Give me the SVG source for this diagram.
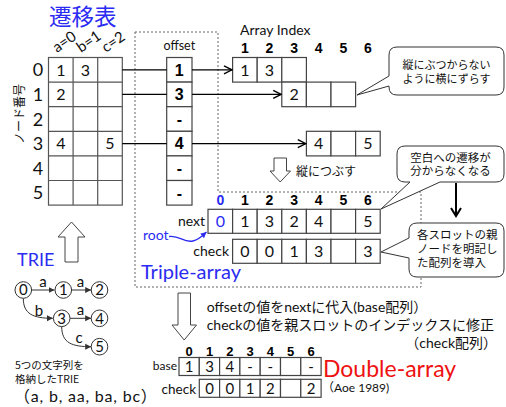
<svg xmlns="http://www.w3.org/2000/svg" width="506" height="407" viewBox="0 0 506 407">
<style>
.cell{fill:#fff;stroke:#444;stroke-width:1.2}
.grid{fill:none;stroke:#555;stroke-width:1.2}
.v{font-family:Lato,"Liberation Sans",sans-serif;font-size:16px;text-anchor:middle;fill:#111}
.dv{font-family:Lato,"Liberation Sans",sans-serif;font-size:15px;text-anchor:middle;fill:#111}
.b{font-family:"Liberation Sans",Arial,sans-serif;font-weight:bold;font-size:14px;text-anchor:middle;fill:#000}
.ob{font-family:"Liberation Sans",Arial,sans-serif;font-weight:bold;font-size:16px;text-anchor:middle;fill:#000}
.jp{font-family:"Noto Sans CJK JP",sans-serif;fill:#111}
.lt{font-family:Lato,"Liberation Sans","Noto Sans CJK JP",sans-serif;fill:#111}
.blue{fill:#2b2bf2}
.conn{stroke:#000;stroke-width:1.3;fill:none}
.callout{fill:#fff;stroke:#333;stroke-width:1}
.hollow{fill:#fff;stroke:#444;stroke-width:1}
.node{fill:#fff;stroke:#333;stroke-width:1}
.dash{fill:none;stroke:#666;stroke-width:1;stroke-dasharray:2 2}
</style>
<defs>
<marker id="chev" markerUnits="userSpaceOnUse" markerWidth="10" markerHeight="10" refX="9" refY="5" orient="auto"><path d="M1,1 L9,5 L1,9" fill="none" stroke="#000" stroke-width="1.4"/></marker>
<marker id="tri" markerUnits="userSpaceOnUse" markerWidth="7" markerHeight="7" refX="6" refY="3.5" orient="auto"><path d="M0,0.5 L6,3.5 L0,6.5 Z" fill="#333"/></marker>
<marker id="blueTri" markerUnits="userSpaceOnUse" markerWidth="7" markerHeight="7" refX="6" refY="3.5" orient="auto"><path d="M0,0.5 L6,3.5 L0,6.5 Z" fill="#2b2bf2"/></marker>
<marker id="down" markerUnits="userSpaceOnUse" markerWidth="12" markerHeight="12" refX="10" refY="6" orient="auto"><path d="M2,1 L10,6 L2,11" fill="none" stroke="#000" stroke-width="2"/></marker>
</defs>

<g id="triple-array-frame">
<path class="dash" d="M135,32 H218 V192 H421 V287 H135 Z"/>
<text class="lt blue" x="141" y="279" font-size="20">Triple-array</text>
</g>

<g id="title">
<text class="jp" x="49" y="24.5" font-size="22.5" style="fill:#2b2bf2">遷移表</text>
</g>

<g id="transition-table">
<text class="jp" transform="translate(23.5,114) rotate(-90)" text-anchor="middle" font-size="12">ノード番号</text>
<text class="lt" transform="translate(57,53) rotate(-35)" font-size="15">a=0</text>
<text class="lt" transform="translate(81,53) rotate(-35)" font-size="15">b=1</text>
<text class="lt" transform="translate(106,53) rotate(-35)" font-size="15">c=2</text>
<g class="lt" font-size="18" text-anchor="middle">
<text x="38" y="76.3">0</text><text x="38" y="100.9">1</text><text x="38" y="125.5">2</text>
<text x="38" y="150.1">3</text><text x="38" y="174.7">4</text><text x="38" y="199.3">5</text>
</g>
<rect class="grid" x="48.5" y="57.5" width="73.8" height="147.6"/>
<path class="grid" d="M73.1,57.5 V205.1 M97.7,57.5 V205.1 M48.5,82.1 H122.3 M48.5,106.7 H122.3 M48.5,131.3 H122.3 M48.5,155.9 H122.3 M48.5,180.5 H122.3"/>
<text class="v" x="60.8" y="75.6">1</text><text class="v" x="85.4" y="75.6">3</text>
<text class="v" x="60.8" y="100.2">2</text>
<text class="v" x="60.8" y="149.4">4</text><text class="v" x="110" y="149.4">5</text>
</g>

<g id="offset">
<text class="lt" x="179.3" y="50" font-size="12.5" text-anchor="middle">offset</text>
<rect class="cell" x="166.7" y="57.5" width="25.3" height="24.6"/>
<rect class="cell" x="166.7" y="82.1" width="25.3" height="24.6"/>
<rect class="cell" x="166.7" y="106.7" width="25.3" height="24.6"/>
<rect class="cell" x="166.7" y="131.3" width="25.3" height="24.6"/>
<rect class="cell" x="166.7" y="155.9" width="25.3" height="24.6"/>
<rect class="cell" x="166.7" y="180.5" width="25.3" height="24.6"/>
<text class="ob" x="179.3" y="75.6">1</text>
<text class="ob" x="179.3" y="100.2">3</text>
<text class="ob" x="179.3" y="124.8">-</text>
<text class="ob" x="179.3" y="149.4">4</text>
<text class="ob" x="179.3" y="174">-</text>
<text class="ob" x="179.3" y="198.6">-</text>
</g>

<g id="array-index">
<text class="lt" x="240" y="35" font-size="14">Array Index</text>
<text class="b" x="244.9" y="52.5">1</text><text class="b" x="269.5" y="52.5">2</text><text class="b" x="294.1" y="52.5">3</text>
<text class="b" x="318.7" y="52.5">4</text><text class="b" x="343.3" y="52.5">5</text><text class="b" x="367.9" y="52.5">6</text>
</g>
<g id="row0">
<rect class="cell" x="232.6" y="57.5" width="24.6" height="24.6"/>
<rect class="cell" x="257.2" y="57.5" width="24.6" height="24.6"/>
<rect class="cell" x="281.8" y="57.5" width="24.6" height="24.6"/>
<text class="v" x="244.9" y="75.6">1</text><text class="v" x="269.5" y="75.6">3</text>
</g>
<g id="row1">
<rect class="cell" x="281.8" y="82.1" width="24.6" height="24.6"/>
<rect class="cell" x="306.4" y="82.1" width="24.6" height="24.6"/>
<rect class="cell" x="331" y="82.1" width="24.6" height="24.6"/>
<text class="v" x="294.1" y="100.2">2</text>
</g>
<g id="row3">
<rect class="cell" x="306.4" y="131.3" width="24.6" height="24.6"/>
<rect class="cell" x="331" y="131.3" width="24.6" height="24.6"/>
<rect class="cell" x="355.6" y="131.3" width="24.6" height="24.6"/>
<text class="v" x="318.7" y="149.4">4</text><text class="v" x="367.9" y="149.4">5</text>
</g>

<g id="connectors">
<path class="conn" d="M122.3,69.8 H166.7 M122.3,94.4 H166.7 M122.3,143.6 H166.7"/>
<path class="conn" d="M192,69.8 H232" marker-end="url(#chev)"/>
<path class="conn" d="M192,94.4 H281.2" marker-end="url(#chev)"/>
<path class="conn" d="M192,143.6 H305.8" marker-end="url(#chev)"/>
<path d="M456,183 V216" stroke="#000" stroke-width="2" fill="none" marker-end="url(#down)"/>
<path d="M169,236.5 C180,235 183,243 193,241 C199,240 202,236 206.5,232" stroke="#2b2bf2" stroke-width="1.3" fill="none" marker-end="url(#blueTri)"/>
<path d="M31.6,290 H54.5" stroke="#333" stroke-width="1" fill="none" marker-end="url(#tri)"/>
<path d="M71.6,290 H91.2" stroke="#333" stroke-width="1" fill="none" marker-end="url(#tri)"/>
<path d="M23.3,298.3 C23.3,314 33,318.3 52.9,318.3" stroke="#333" stroke-width="1" fill="none" marker-end="url(#tri)"/>
<path d="M70,318.3 H91.2" stroke="#333" stroke-width="1" fill="none" marker-end="url(#tri)"/>
<path d="M61.7,326.6 C61.7,343 72,346.7 91.2,346.7" stroke="#333" stroke-width="1" fill="none" marker-end="url(#tri)"/>
</g>

<g id="collapse">
<path class="hollow" d="M274,158 H286.5 V171 H290.5 L280.2,182 L270,171 H274 Z"/>
<text class="jp" x="296" y="176" font-size="12">縦につぶす</text>
</g>

<g id="triple-index">
<text class="b" x="220.3" y="205" style="fill:#2b2bf2">0</text>
<text class="b" x="244.9" y="205">1</text><text class="b" x="269.5" y="205">2</text><text class="b" x="294.1" y="205">3</text>
<text class="b" x="318.7" y="205">4</text><text class="b" x="343.3" y="205">5</text><text class="b" x="367.9" y="205">6</text>
</g>
<g id="next">
<text class="lt" x="205" y="226" font-size="14" text-anchor="end">next</text>
<rect class="cell" x="208" y="209.3" width="24.6" height="24"/>
<rect class="cell" x="232.6" y="209.3" width="24.6" height="24"/>
<rect class="cell" x="257.2" y="209.3" width="24.6" height="24"/>
<rect class="cell" x="281.8" y="209.3" width="24.6" height="24"/>
<rect class="cell" x="306.4" y="209.3" width="24.6" height="24"/>
<rect class="cell" x="331" y="209.3" width="24.6" height="24"/>
<rect class="cell" x="355.6" y="209.3" width="24.6" height="24"/>
<text class="v" x="220.3" y="227" style="fill:#2b2bf2">0</text>
<text class="v" x="244.9" y="227">1</text><text class="v" x="269.5" y="227">3</text><text class="v" x="294.1" y="227">2</text>
<text class="v" x="318.7" y="227">4</text><text class="v" x="367.9" y="227">5</text>
</g>
<g id="root">
<text class="lt blue" x="143" y="240" font-size="14">root</text>
</g>
<g id="check">
<text class="lt" x="229" y="256" font-size="14" text-anchor="end">check</text>
<rect class="cell" x="232.6" y="239.3" width="24.6" height="24"/>
<rect class="cell" x="257.2" y="239.3" width="24.6" height="24"/>
<rect class="cell" x="281.8" y="239.3" width="24.6" height="24"/>
<rect class="cell" x="306.4" y="239.3" width="24.6" height="24"/>
<rect class="cell" x="331" y="239.3" width="24.6" height="24"/>
<rect class="cell" x="355.6" y="239.3" width="24.6" height="24"/>
<text class="v" x="244.9" y="257">0</text><text class="v" x="269.5" y="257">0</text><text class="v" x="294.1" y="257">1</text>
<text class="v" x="318.7" y="257">3</text><text class="v" x="367.9" y="257">3</text>
</g>

<g id="callout-shift">
<path class="callout" d="M397,47 H496 Q504,47 504,55 V87 Q504,95 496,95 H397 Q389,95 389,87 V86 L357,95 L389,76 V55 Q389,47 397,47 Z"/>
<text class="jp" x="446.5" y="68.5" font-size="11" text-anchor="middle">縦にぶつからない</text>
<text class="jp" x="446.5" y="82.5" font-size="11" text-anchor="middle">ように横にずらす</text>
</g>
<g id="callout-blank">
<path class="callout" d="M405,146 H496 Q504,146 504,154 V174 Q504,182 496,182 H440 L381,209 L410,182 H405 Q397,182 397,174 V154 Q397,146 405,146 Z"/>
<text class="jp" x="450.5" y="161.5" font-size="11.5" text-anchor="middle">空白への遷移が</text>
<text class="jp" x="450.5" y="175" font-size="11.5" text-anchor="middle">分からなくなる</text>
</g>
<g id="callout-parent">
<path class="callout" d="M417,223 H496 Q504,223 504,231 V269 Q504,277 496,277 H417 Q409,277 409,269 V258 L381,252 L409,238 V231 Q409,223 417,223 Z"/>
<text class="jp" x="417" y="239" font-size="11.5">各スロットの親</text>
<text class="jp" x="417" y="253" font-size="11.5">ノードを明記し</text>
<text class="jp" x="417" y="267" font-size="11.5">た配列を導入</text>
</g>

<g id="trie-arrow">
<path class="hollow" d="M71.5,222 L85,237 L78,237 L78,262 L65,262 L65,237 L58,237 Z"/>
</g>
<g id="trie-title"><text class="lt blue" x="17" y="266" font-size="18">TRIE</text></g>
<g id="n0"><circle class="node" cx="23.3" cy="290" r="8.3"/><text class="lt" x="23.3" y="295.3" font-size="15" text-anchor="middle">0</text></g>
<g id="n1"><circle class="node" cx="63.3" cy="290" r="8.3"/><text class="lt" x="63.3" y="295.3" font-size="15" text-anchor="middle">1</text></g>
<g id="n2"><circle class="node" cx="99.5" cy="290" r="8.3"/><text class="lt" x="99.5" y="295.3" font-size="15" text-anchor="middle">2</text></g>
<g id="n3"><circle class="node" cx="61.7" cy="318.3" r="8.3"/><text class="lt" x="61.7" y="323.6" font-size="15" text-anchor="middle">3</text></g>
<g id="n4"><circle class="node" cx="99.5" cy="318.3" r="8.3"/><text class="lt" x="99.5" y="323.6" font-size="15" text-anchor="middle">4</text></g>
<g id="n5"><circle class="node" cx="99.5" cy="346.7" r="8.3"/><text class="lt" x="99.5" y="352" font-size="15" text-anchor="middle">5</text></g>
<g id="trie-labels" class="lt" font-size="15" text-anchor="middle">
<text x="43" y="287">a</text><text x="80.5" y="287">a</text>
<text x="39" y="316">b</text><text x="80.5" y="315">a</text><text x="79" y="343">c</text>
</g>
<g id="trie-caption">
<text class="jp" x="15" y="368.5" font-size="10.5">5つの文字列を</text>
<text class="jp" x="15" y="383" font-size="10.5">格納したTRIE</text>
<text class="lt" x="14" y="402" font-size="16" letter-spacing="0.8">（a, b, aa, ba, bc）</text>
</g>

<g id="convert">
<path class="hollow" d="M178,293 H190.5 V325 H196.5 L184.2,340 L172,325 H178 Z"/>
<text class="lt" x="206.7" y="311.7" font-size="14">offsetの値をnextに代入(base配列）</text>
<text class="lt" x="206.7" y="330" font-size="14">checkの値を親スロットのインデックスに修正</text>
<text class="lt" x="497" y="348" font-size="14" text-anchor="end">（check配列）</text>
</g>
<g id="double-index">
<text class="b" x="189.2" y="356" style="font-size:13px">0</text>
<text class="b" x="209.5" y="356" style="font-size:13px">1</text>
<text class="b" x="229.8" y="356" style="font-size:13px">2</text>
<text class="b" x="250.1" y="356" style="font-size:13px">3</text>
<text class="b" x="270.4" y="356" style="font-size:13px">4</text>
<text class="b" x="290.7" y="356" style="font-size:13px">5</text>
<text class="b" x="311" y="356" style="font-size:13px">6</text>
</g>
<g id="base">
<text class="lt" x="177" y="370" font-size="12" text-anchor="end">base</text>
<rect class="cell" x="179" y="357.5" width="20.3" height="18"/>
<rect class="cell" x="199.3" y="357.5" width="20.3" height="18"/>
<rect class="cell" x="219.6" y="357.5" width="20.3" height="18"/>
<rect class="cell" x="239.9" y="357.5" width="20.3" height="18"/>
<rect class="cell" x="260.2" y="357.5" width="20.3" height="18"/>
<rect class="cell" x="280.5" y="357.5" width="20.3" height="18"/>
<rect class="cell" x="300.8" y="357.5" width="20.3" height="18"/>
<text class="dv" x="189.2" y="372">1</text><text class="dv" x="209.5" y="372">3</text><text class="dv" x="229.8" y="372">4</text>
<text class="dv" x="250.1" y="372">-</text><text class="dv" x="270.4" y="372">-</text><text class="dv" x="311" y="372">-</text>
</g>
<g id="dcheck">
<text class="lt" x="196" y="394" font-size="13.5" text-anchor="end">check</text>
<rect class="cell" x="199.3" y="379.3" width="20.3" height="18"/>
<rect class="cell" x="219.6" y="379.3" width="20.3" height="18"/>
<rect class="cell" x="239.9" y="379.3" width="20.3" height="18"/>
<rect class="cell" x="260.2" y="379.3" width="20.3" height="18"/>
<rect class="cell" x="280.5" y="379.3" width="20.3" height="18"/>
<rect class="cell" x="300.8" y="379.3" width="20.3" height="18"/>
<text class="dv" x="209.5" y="394">0</text><text class="dv" x="229.8" y="394">0</text><text class="dv" x="250.1" y="394">1</text>
<text class="dv" x="270.4" y="394">2</text><text class="dv" x="311" y="394">2</text>
</g>
<g id="double-title">
<text class="lt" x="323" y="377" font-size="23" style="fill:#ee1111">Double-array</text>
<text class="lt" x="322" y="392" font-size="12">（Aoe 1989)</text>
</g>
</svg>
